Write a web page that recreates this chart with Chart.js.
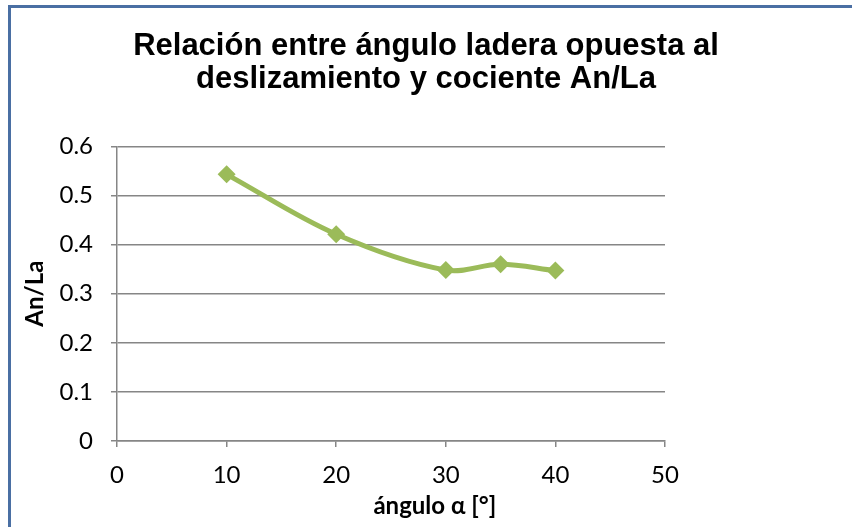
<!DOCTYPE html>
<html>
<head>
<meta charset="utf-8">
<script src="https://cdn.jsdelivr.net/npm/chart.js@4.4.0/dist/chart.umd.min.js"></script>
<style>
  html, body { margin: 0; padding: 0; background: #fff; }
  #wrap { position: relative; width: 852px; height: 527px; overflow: hidden; }
  #frame { position: absolute; left: 8px; top: 5px; width: 900px; height: 600px;
           border-left: 3px solid #4a6fa3; border-top: 3px solid #4a6fa3; box-sizing: border-box; }
  canvas { position: absolute; left: 0; top: 0; }
</style>
</head>
<body>
<div id="wrap">
  <div id="frame"></div>
  <canvas id="chart" width="852" height="527"></canvas>
</div>
<script>
// angle values (x) and An/La ratio (y)
const angles = [10, 20, 30, 35, 40];
const ratios = [0.543, 0.421, 0.348, 0.360, 0.347];

const titleLines = ['Relación entre ángulo ladera opuesta al', 'deslizamiento y cociente An/La'];
const xTitle = 'ángulo α [°]';
const yTitle = 'An/La';

const green = '#9bbb59';
const axisGray = '#868686';
const labelFamily = 'Lato, "Open Sans", sans-serif';
const tickFont = { family: labelFamily, size: 24 };

const points = angles.map((a, i) => ({ x: a, y: ratios[i] }));

// the title should be centred on the whole canvas, not only the padded box
const centreTitle = {
  id: 'centreTitle',
  afterLayout(chart) {
    const t = chart.titleBlock;
    if (t) { t.left = 0; t.right = chart.width; t.width = chart.width; }
  }
};

// Excel put the x axis title a bit right of the axis centre
const xAxisTitle = {
  id: 'xAxisTitle',
  afterDraw(chart) {
    const { ctx, chartArea } = chart;
    ctx.save();
    ctx.font = 'bold 24px ' + labelFamily;
    ctx.fillStyle = '#000';
    ctx.textAlign = 'center';
    ctx.textBaseline = 'middle';
    ctx.fillText(xTitle, chartArea.left + (chartArea.right - chartArea.left) * 0.58, 506);
    ctx.restore();
  }
};

new Chart(document.getElementById('chart'), {
  type: 'scatter',
  data: {
    datasets: [{
      data: points,
      showLine: true,
      tension: 0.35,
      borderColor: green,
      borderWidth: 5,
      backgroundColor: green,
      pointStyle: 'rectRot',
      pointRadius: 9,
      pointBorderWidth: 0
    }]
  },
  options: {
    responsive: false,
    animation: false,
    layout: { padding: { left: 0, right: 187, top: 0, bottom: 0 } },
    plugins: {
      legend: { display: false },
      tooltip: { enabled: false },
      title: {
        display: true,
        text: titleLines,
        color: '#000',
        font: { family: '"Liberation Sans", Arial, sans-serif', size: 31, weight: 'bold', lineHeight: 1.07 },
        padding: { top: 30, bottom: 50 }
      }
    },
    scales: {
      x: {
        type: 'linear',
        min: 0,
        max: 50,
        ticks: { stepSize: 10, color: '#000', font: tickFont, padding: 14 },
        grid: { drawOnChartArea: false, color: axisGray, tickLength: 6, lineWidth: 1.5 },
        border: { color: axisGray, width: 1.5 },
        afterFit: s => { s.height = 86; }
      },
      y: {
        min: 0,
        max: 0.6,
        ticks: { stepSize: 0.1, color: '#000', font: tickFont, padding: 18 },
        grid: { color: axisGray, tickLength: 6, lineWidth: 1.5 },
        border: { color: axisGray, width: 1.5 },
        title: {
          display: true, text: yTitle, color: '#000',
          font: { family: labelFamily, size: 24, weight: 'bold' },
          padding: { top: 21, bottom: 0 }
        },
        afterFit: s => { s.width = 117; }
      }
    }
  },
  plugins: [centreTitle, xAxisTitle]
});
</script>
</body>
</html>
